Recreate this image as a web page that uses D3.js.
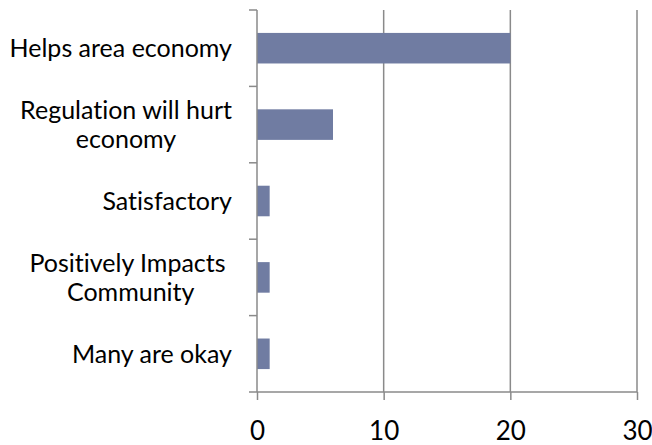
<!DOCTYPE html>
<html>
<head>
<meta charset="utf-8">
<script src="https://d3js.org/d3.v7.min.js"></script>
<style>
  body { margin: 0; background: #fff; }
  text { font-family: Lato, "Open Sans", sans-serif; fill: #000; font-variant-ligatures: none; }
</style>
</head>
<body>
<svg width="652" height="445"></svg>
<script>
// chart data
var categories = ["Helps area economy", "Regulation will hurt economy", "Satisfactory",
  "Positively Impacts Community", "Many are okay"];
var labelLines = [["Helps area economy"], ["Regulation will hurt", "economy"], ["Satisfactory"],
  ["Positively Impacts ", "Community"], ["Many are okay"]];
var values = [20, 6, 1, 1, 1];
var xTicks = [0, 10, 20, 30];

var svg = d3.select("svg");
var margin = {left: 257, top: 10};

var g = svg.append("g").attr("transform", "translate(" + margin.left + "," + margin.top + ")");

var x = d3.scaleLinear().domain([0, 30]).range([0, 380]);
var y = d3.scaleBand().domain(categories).range([0, 382]).paddingInner(0.6).paddingOuter(0.3);

var axisColor = "#8a8a8a";

// vertical gridlines
g.selectAll("line.grid")
  .data(xTicks.slice(1))
  .enter().append("line")
  .attr("class", "grid")
  .attr("x1", function (d) { return x(d); })
  .attr("x2", function (d) { return x(d); })
  .attr("y1", 0)
  .attr("y2", 382)
  .attr("stroke", axisColor)
  .attr("stroke-width", 1.5);

// bars
g.selectAll("rect.bar")
  .data(values)
  .enter().append("rect")
  .attr("class", "bar")
  .attr("x", x(0))
  .attr("y", function (d, i) { return y(categories[i]); })
  .attr("width", function (d) { return x(d) - x(0); })
  .attr("height", y.bandwidth())
  .attr("fill", "#707ca2");

// x axis
var xAxis = g.append("g")
  .attr("transform", "translate(0,382)")
  .call(d3.axisBottom(x).tickValues(xTicks).tickSize(8).tickPadding(22).tickSizeOuter(0));
xAxis.select(".domain").attr("stroke", axisColor).attr("stroke-width", 1.5)
  .attr("d", "M-8,0H" + x(30));
xAxis.selectAll(".tick line").attr("stroke", axisColor).attr("stroke-width", 1.5);
xAxis.selectAll(".tick text").attr("font-size", 26).attr("font-family", "Lato, sans-serif").attr("fill", "#000");

// y axis line and category separators
var step = 382 / categories.length;
g.append("line")
  .attr("x1", 0).attr("x2", 0).attr("y1", 0).attr("y2", 382)
  .attr("stroke", axisColor).attr("stroke-width", 1.5);
g.selectAll("line.sep")
  .data(d3.range(categories.length))
  .enter().append("line")
  .attr("class", "sep")
  .attr("x1", -8).attr("x2", 0)
  .attr("y1", function (d) { return d * step; })
  .attr("y2", function (d) { return d * step; })
  .attr("stroke", axisColor).attr("stroke-width", 1.5);

// category labels, lines centred on each other, block right-aligned
var lineH = 29;
var labelRight = -25;
categories.forEach(function (c, i) {
  var lines = labelLines[i];
  var cy = y(c) + y.bandwidth() / 2;
  var t = g.append("text")
    .attr("font-size", 25)
    .attr("text-anchor", "middle")
    .style("white-space", "pre");
  var spans = lines.map(function (l, k) {
    return t.append("tspan")
      .attr("y", cy + (k - (lines.length - 1) / 2) * lineH)
      .attr("dy", "0.35em")
      .text(l);
  });
  var maxW = d3.max(spans, function (s) { return s.node().getComputedTextLength(); });
  spans.forEach(function (s) { s.attr("x", labelRight - maxW / 2); });
});
</script>
</body>
</html>
